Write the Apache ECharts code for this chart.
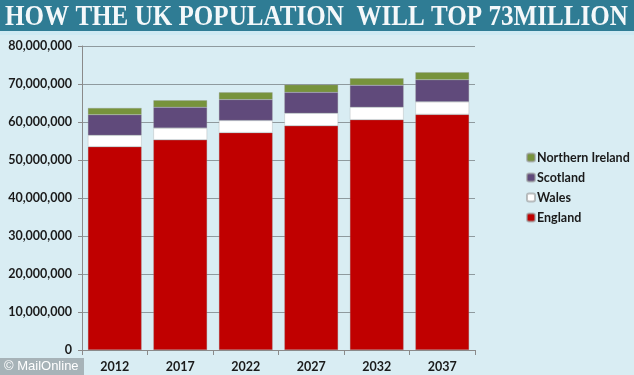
<!DOCTYPE html>
<html><head><meta charset="utf-8">
<script src="https://cdn.jsdelivr.net/npm/echarts@6/dist/echarts.min.js"></script>
<style>html,body{margin:0;padding:0;background:#d9edf3}#c{width:634px;height:375px}</style>
</head><body><div id="c"></div>
<script>
var years = ['2012','2017','2022','2027','2032','2037'];
var england = [53500000, 55300000, 57200000, 59000000, 60600000, 62000000];
var wales = [3000000, 3100000, 3200000, 3300000, 3300000, 3300000];
var scotland = [5400000, 5500000, 5500000, 5500000, 5800000, 5800000];
var nireland = [1800000, 1800000, 1900000, 2000000, 1800000, 2000000];
var titleText = 'HOW THE UK POPULATION  WILL TOP 73MILLION';
var yMax = 80000000, yStep = 10000000;

function fmt(v){ return String(v).replace(/\B(?=(\d{3})+(?!\d))/g, ','); }

var chart = echarts.init(document.getElementById('c'));
var lab = {fontFamily:'Lato', fontWeight:'bold', color:'#1a1a1a'};
function ser(name, data, color){
  return {name:name, type:'bar', stack:'t', data:data, barCategoryGap:'18%',
    itemStyle:{color:color, borderColor:'rgba(150,150,150,0.6)', borderWidth:0.5}};
}
chart.setOption({
  backgroundColor:'#d9edf3',
  animation:false,
  grid:{left:82, right:159, top:46, bottom:25},
  xAxis:{type:'category', data:years,
    axisLine:{lineStyle:{color:'#8a8a8a'}},
    axisTick:{show:true, length:5, lineStyle:{color:'#8a8a8a'}},
    axisLabel:Object.assign({fontSize:12.5, margin:10}, lab)},
  yAxis:{type:'value', min:0, max:yMax, interval:yStep,
    axisLine:{show:true, lineStyle:{color:'#8a8a8a'}},
    axisTick:{show:true, length:4, lineStyle:{color:'#8a8a8a'}},
    splitLine:{lineStyle:{color:'#8f9a9e', width:1}},
    axisLabel:Object.assign({fontSize:12.5, margin:10, formatter:function(v){return fmt(v);}}, lab)},
  legend:{orient:'vertical', left:521, top:146, itemWidth:8, itemHeight:8, itemGap:7,
    data:['Northern Ireland','Scotland','Wales','England'],
    textStyle:Object.assign({fontSize:12.5, padding:[0,0,0,-3]}, lab)},
  graphic:[
    {type:'rect', left:0, top:0, shape:{width:634, height:31}, style:{fill:'#2f7c94'}},
    {type:'rect', left:0, top:31, shape:{width:634, height:4}, style:{fill:'#cfeaf3'}},
    {type:'text', x:5, y:3, scaleX:0.865, style:{text:titleText, fill:'#f4f8fa',
      font:'bold 29px "Liberation Serif"'}},
    {type:'rect', left:0, top:358, shape:{width:84, height:17}, style:{fill:'#a7b3b8'}},
    {type:'text', x:4, y:360, style:{text:'\u00a9 MailOnline', fill:'#ffffff',
      font:'13px "Liberation Sans"'}}
  ],
  series:[
    ser('England', england, '#c00000'),
    ser('Wales', wales, '#ffffff'),
    ser('Scotland', scotland, '#604a7b'),
    ser('Northern Ireland', nireland, '#77933c')
  ]
});
</script></body></html>
